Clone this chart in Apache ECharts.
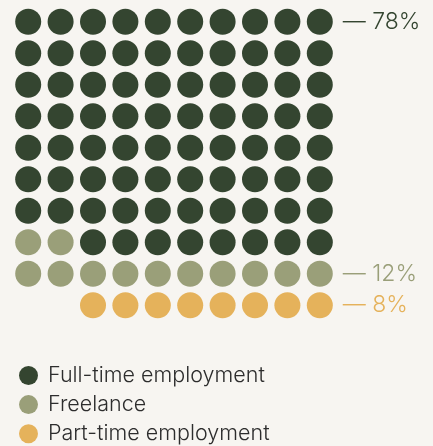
<!DOCTYPE html>
<html>
<head>
<meta charset="utf-8">
<script src="https://cdn.jsdelivr.net/npm/echarts@6/dist/echarts.min.js"></script>
<style>
  html, body { margin: 0; padding: 0; background: #f7f5f1; }
  #chart { width: 433px; height: 446px; }
</style>
</head>
<body>
<div id="chart"></div>
<script>
// Employment mix, shown as a 10 x 10 dot grid (one dot = 1%)
const categories = ['Full-time employment', 'Freelance', 'Part-time employment'];
const shares = [78, 12, 8];
const shareLabels = ['78%', '12%', '8%'];

const palette = ['#344530', '#9a9f79', '#e5b25b'];
const COLS = 10;
const ROWS = 10;

// Fill the grid top-down. A category's partial last row is right-aligned,
// and the next category first takes the free slots left in that row.
function layoutCells(counts) {
  const out = counts.map(() => []);
  let row = -1;
  let free = [];
  counts.forEach((count, k) => {
    let n = count;
    while (n > 0) {
      if (free.length === 0) {
        row += 1;
        free = Array.from({ length: COLS }, (_, c) => c);
      }
      if (n >= free.length) {
        free.forEach(c => out[k].push([c, row]));
        n -= free.length;
        free = [];
      } else {
        const taken = free.slice(free.length - n);
        taken.forEach(c => out[k].push([c, row]));
        free = free.slice(0, free.length - n);
        n = 0;
      }
    }
  });
  return out;
}

const cells = layoutCells(shares);
const font = 'Inter, "Noto Sans", sans-serif';

const series = categories.map((name, k) => {
  // the value label sits on the category's first dot in the last column
  const anchor = cells[k].find(p => p[0] === COLS - 1);
  return {
    name: name,
    type: 'scatter',
    symbol: 'circle',
    symbolSize: 26,
    itemStyle: { color: palette[k], opacity: 1 },
    emphasis: { disabled: true },
    data: cells[k].map(p => {
      const item = { value: p };
      if (p === anchor) {
        item.label = {
          show: true,
          position: 'right',
          distance: 10,
          formatter: '— ' + shareLabels[k],
          color: palette[k],
          fontFamily: font,
          fontWeight: 300,
          fontSize: 23
        };
      }
      return item;
    })
  };
});

const chart = echarts.init(document.getElementById('chart'), null, { renderer: 'canvas' });
chart.setOption({
  backgroundColor: '#f7f5f1',
  animation: false,
  grid: { left: 12, top: 6, width: 324, height: 315 },
  xAxis: { type: 'value', min: -0.5, max: COLS - 0.5, show: false },
  yAxis: { type: 'value', min: -0.5, max: ROWS - 0.5, inverse: true, show: false },
  legend: {
    data: categories,
    orient: 'vertical',
    left: 19,
    top: 364.5,
    height: 120,
    padding: 0,
    icon: 'circle',
    itemWidth: 19,
    itemHeight: 19,
    itemGap: 7.1,
    selectedMode: false,
    textStyle: {
      color: '#2d2d2d',
      fontFamily: font,
      fontWeight: 300,
      fontSize: 21.5,
      padding: [0, 0, 0, 5]
    }
  },
  series: series
});
</script>
</body>
</html>
